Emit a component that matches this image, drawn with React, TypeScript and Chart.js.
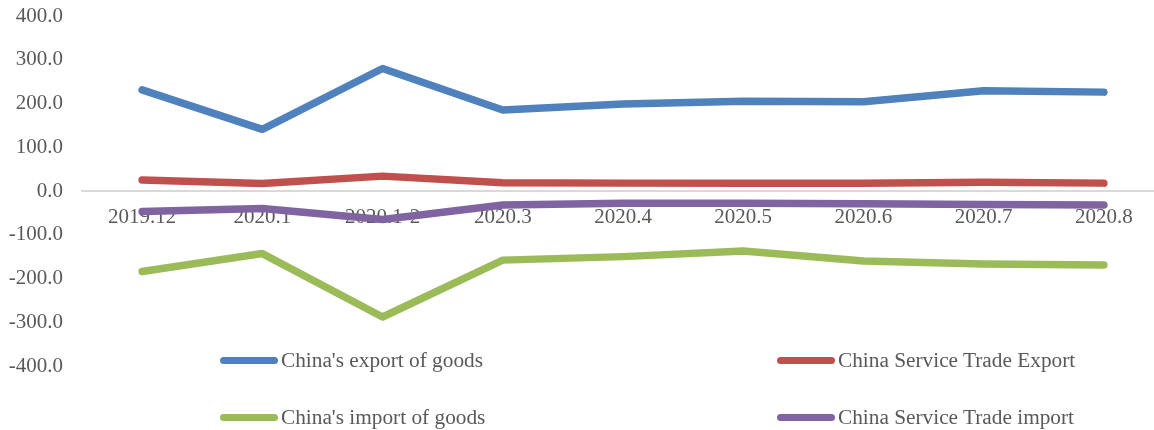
import React, { useEffect, useRef } from "react";
import { Chart, registerables } from "chart.js";

Chart.register(...registerables);

const categories = ["2019.12", "2020.1", "2020.1-2", "2020.3", "2020.4", "2020.5", "2020.6", "2020.7", "2020.8"];
const exportGoods = [231, 141, 280, 185, 199, 205, 204, 229, 226];
const serviceExport = [25, 17, 34, 19, 18, 18, 18, 20, 18];
const importGoods = [-184, -143, -288, -158, -150, -137, -160, -167, -169];
const serviceImport = [-47, -40, -65, -32, -28, -28, -29, -31, -32];
const yTicks = [-400, -300, -200, -100, 0, 100, 200, 300, 400];

const COLORS = {
  blue: "#4F81BD",
  red: "#C0504D",
  green: "#9BBB59",
  purple: "#8064A2",
};
const FONT = "'Liberation Serif', 'Times New Roman', serif";
const TEXT = "#595959";

const legendItems = [
  { label: "China's export of goods", color: COLORS.blue, x: 220, y: 360 },
  { label: "China Service Trade Export", color: COLORS.red, x: 777, y: 360 },
  { label: "China's import of goods", color: COLORS.green, x: 220, y: 417 },
  { label: "China Service Trade import", color: COLORS.purple, x: 777, y: 417 },
];

export default function App() {
  const ref = useRef<HTMLCanvasElement | null>(null);

  useEffect(() => {
    if (!ref.current) return;
    const mk = (label: string, data: number[], color: string) => ({
      label,
      data,
      borderColor: color,
      backgroundColor: color,
      borderWidth: 7.5,
      borderCapStyle: "round" as const,
      borderJoinStyle: "round" as const,
      pointRadius: 0,
      tension: 0,
    });
    const chart = new Chart(ref.current, {
      type: "line",
      data: {
        labels: categories,
        datasets: [
          mk("China Service Trade import", serviceImport, COLORS.purple),
          mk("China's import of goods", importGoods, COLORS.green),
          mk("China Service Trade Export", serviceExport, COLORS.red),
          mk("China's export of goods", exportGoods, COLORS.blue),
        ],
      },
      options: {
        responsive: false,
        animation: false,
        devicePixelRatio: 1,
        layout: { padding: { left: 0, right: 6, top: 16, bottom: 64 } },
        plugins: { legend: { display: false }, tooltip: { enabled: false } },
        scales: {
          x: {
            position: { y: 0 } as any,
            offset: true,
            grid: { display: false, drawTicks: false },
            border: { display: true, color: "#D9D9D9", width: 2 },
            ticks: {
              color: TEXT,
              font: { family: FONT, size: 21 },
              padding: 13.5,
              maxRotation: 0,
              autoSkip: false,
            },
          },
          y: {
            min: -400,
            max: 400,
            afterFit: (s: any) => {
              s.width = 82;
              s.paddingTop = 0;
              s.paddingBottom = 0;
            },
            afterBuildTicks: (s: any) => {
              s.ticks = yTicks.map((v) => ({ value: v }));
            },
            grid: { display: false, drawTicks: false },
            border: { display: false },
            ticks: {
              color: TEXT,
              font: { family: FONT, size: 21 },
              padding: 19,
              callback: (v: any) => Number(v).toFixed(1),
            },
          },
        },
      },
    });
    return () => chart.destroy();
  }, []);

  return (
    <div
      style={{
        position: "fixed",
        left: 0,
        top: 0,
        width: 1154,
        height: 430,
        overflow: "hidden",
        background: "#fff",
      }}
    >
      <canvas ref={ref} width={1170} height={430} style={{ display: "block" }} />
      {legendItems.map((it) => (
        <div
          key={it.label}
          style={{
            position: "absolute",
            left: it.x,
            top: it.y - 14,
            height: 28,
            display: "flex",
            alignItems: "center",
            whiteSpace: "nowrap",
            fontFamily: FONT,
            fontSize: 21.3,
            color: TEXT,
          }}
        >
          <span
            style={{
              display: "inline-block",
              width: 58,
              height: 7,
              borderRadius: 4,
              background: it.color,
              marginRight: 3,
            }}
          />
          <span>{it.label}</span>
        </div>
      ))}
    </div>
  );
}
